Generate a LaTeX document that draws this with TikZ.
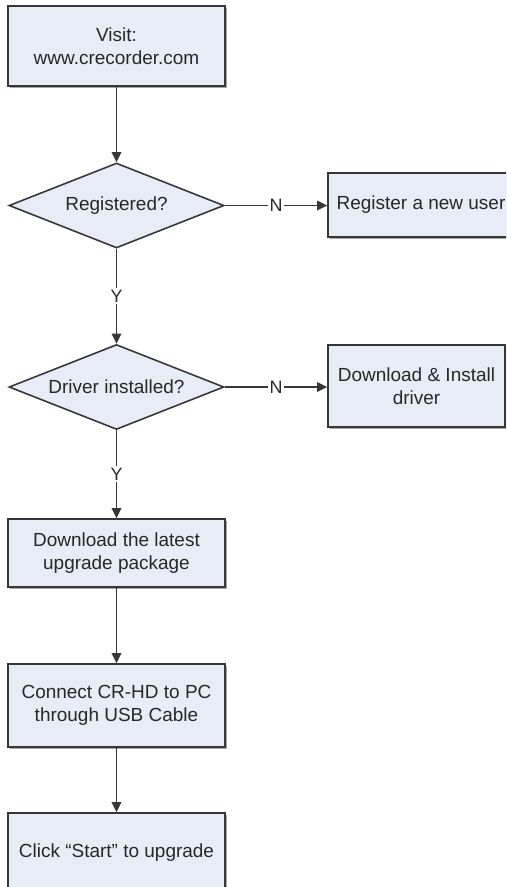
\documentclass[tikz,border=0pt]{standalone}
\usepackage{fontspec}
\setmainfont{Liberation Sans}
\usetikzlibrary{shapes.geometric,arrows.meta,shadows}
\definecolor{boxfill}{RGB}{232,236,247}
\definecolor{linegray}{RGB}{55,55,55}
\definecolor{textgray}{RGB}{40,40,40}

\begin{document}
\begin{tikzpicture}[
	font=\fontsize{10.8pt}{13.1pt}\selectfont,
	box/.style={draw=linegray, line width=0.9pt, fill=boxfill, text=textgray, align=center, inner sep=0pt,
		drop shadow={shadow xshift=0.035cm, shadow yshift=-0.035cm, fill=black!35, opacity=1}},
	decision/.style={diamond, aspect=2.53, draw=linegray, line width=0.9pt, fill=boxfill, text=textgray,
		inner sep=0pt, minimum width=4.3cm, minimum height=1.7cm},
	flow/.style={draw=linegray, line width=0.9pt, -{Triangle[length=0.2cm, width=0.19cm]}},
	answer/.style={fill=white, inner sep=1pt, text=textgray, font=\fontsize{10.2pt}{12pt}\selectfont}
]
	\useasboundingbox (0, 0) rectangle (10.12, -17.74);
	\clip (0, 0) rectangle (10.12, -17.74);
	\fill[white] (0, 0) rectangle (10.12, -17.74);
	\begin{scope}
	\node[box, minimum width=3.72cm, minimum height=1.28cm] (3) at (8.42, -4.1) {Register a new user};
	\node[box, minimum width=4.34cm, minimum height=1.6cm] (1) at (2.33, -0.92) {Visit:\\www.crecorder.com};
	\node[decision] (2) at (2.33, -4.11) {Registered?};
	\node[decision] (4) at (2.33, -7.74) {Driver installed?};
	\node[box, minimum width=3.54cm, minimum height=1.64cm] (5) at (8.33, -7.72) {Download \& Install\\driver};
	\node[box, minimum width=4.34cm, minimum height=1.36cm] (6) at (2.33, -11.06) {Download the latest\\upgrade package};
	\node[box, minimum width=4.34cm, minimum height=1.66cm] (7) at (2.33, -14.11) {Connect CR-HD to PC\\through USB Cable};
	\node[box, minimum width=4.34cm, minimum height=1.6cm] (8) at (2.33, -17.06) {Click ``Start'' to upgrade};
	\draw[flow] (1) -- (2);
	\draw[flow] (2.east) -- node[answer] {N} (2.east -| 3.west);
	\draw[flow] (2) -- node[answer] {Y} (4);
	\draw[flow] (4.east) -- node[answer] {N} (4.east -| 5.west);
	\draw[flow] (4) -- node[answer] {Y} (6);
	\draw[flow] (6) -- (7);
	\draw[flow] (7) -- (8);
	\end{scope}
\end{tikzpicture}
\end{document}
